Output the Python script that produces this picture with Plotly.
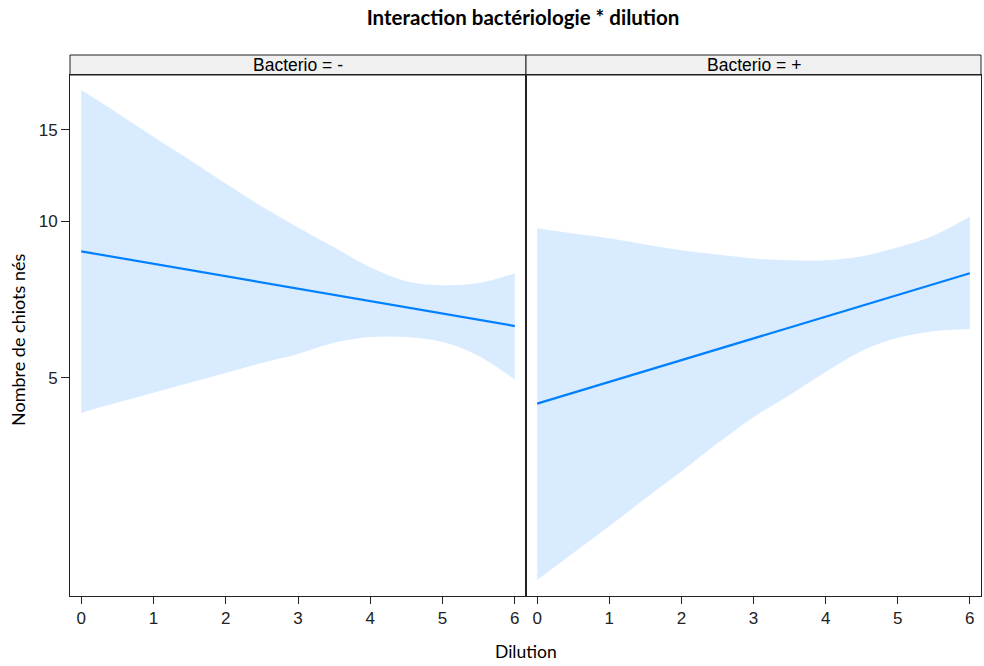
import plotly.graph_objects as go

# Effect estimates (number of pups born) by dilution, per bacteriology status
dilution = [0, 0.5, 1, 1.5, 2, 2.5, 3, 3.5, 4, 4.5, 5, 5.5, 6]
line_x = [0, 1, 2, 3, 4, 5, 6]

neg_fit = [8.76, 8.29, 7.85, 7.43, 7.03, 6.65, 6.29]
neg_upper = [17.9, 16.18, 14.55, 13.15, 11.83, 10.68, 9.74, 8.92, 8.16, 7.67, 7.54, 7.61, 7.95]
neg_lower = [4.28, 4.48, 4.68, 4.89, 5.11, 5.34, 5.56, 5.84, 5.99, 5.99, 5.86, 5.51, 4.96]

pos_fit = [4.46, 4.91, 5.41, 5.95, 6.55, 7.22, 7.95]
pos_upper = [9.70, 9.48, 9.28, 9.03, 8.80, 8.64, 8.49, 8.42, 8.42, 8.57, 8.92, 9.40, 10.22]
pos_lower = [2.04, 2.30, 2.59, 2.93, 3.30, 3.74, 4.20, 4.63, 5.13, 5.63, 5.97, 6.15, 6.21]

panels = ["Bacterio = -", "Bacterio = +"]
y_ticks = [5, 10, 15]
x_ticks = [0, 1, 2, 3, 4, 5, 6]

LINE = "rgb(0,128,255)"
BAND = "rgba(0,128,255,0.15)"
LABEL_FONT = "Lato, Open Sans, sans-serif"

fig = go.Figure()

series = [
    (neg_fit, neg_upper, neg_lower, "x", "y"),
    (pos_fit, pos_upper, pos_lower, "x2", "y2"),
]
for fit, up, lo, xa, ya in series:
    fig.add_trace(go.Scatter(x=dilution, y=lo, mode="lines", line=dict(width=0, shape="spline"),
                             xaxis=xa, yaxis=ya, hoverinfo="skip", showlegend=False))
    fig.add_trace(go.Scatter(x=dilution, y=up, mode="lines", line=dict(width=0, shape="spline"),
                             fill="tonexty", fillcolor=BAND,
                             xaxis=xa, yaxis=ya, hoverinfo="skip", showlegend=False))
    fig.add_trace(go.Scatter(x=line_x, y=fit, mode="lines", line=dict(color=LINE, width=2.2),
                             xaxis=xa, yaxis=ya, showlegend=False))

top = 0.963
split = 456 / 911
axis_font = dict(family="Liberation Sans, Arial, sans-serif", size=17, color="#222")

common_x = dict(range=[-0.155, 6.155], tickvals=x_ticks, ticks="outside", ticklen=7,
                tickcolor="#222", tickfont=axis_font, showline=True, linecolor="#222",
                linewidth=1, mirror=True, showgrid=False, zeroline=False)
common_y = dict(type="log", range=[0.2790, 1.2819], tickvals=y_ticks,
                ticklen=8, tickcolor="#222", tickfont=axis_font, showline=True,
                linecolor="#222", linewidth=1, mirror=True, showgrid=False,
                zeroline=False, domain=[0, top])

fig.update_layout(
    width=984, height=666,
    margin=dict(l=70, r=3, t=55, b=70),
    plot_bgcolor="white", paper_bgcolor="white",
    title=dict(text="<b>Interaction bactériologie * dilution</b>", x=(363 + 683) / 2 / 984,
               xanchor="center", y=1 - 18 / 666, yanchor="middle",
               font=dict(family=LABEL_FONT, size=20.5, color="black")),
    xaxis=dict(domain=[0, split], anchor="y", **common_x),
    xaxis2=dict(domain=[split, 1], anchor="y2", **common_x),
    yaxis=dict(anchor="x", ticks="outside", **common_y),
    yaxis2=dict(anchor="x2", matches="y", showticklabels=False, ticks="", **common_y),
)

# Strip headers above each panel
for i, label in enumerate(panels):
    x0, x1 = (0, split) if i == 0 else (split, 1)
    fig.add_shape(type="rect", xref="paper", yref="paper", x0=x0, x1=x1, y0=top, y1=1,
                  fillcolor="#f0f0f0", line=dict(color="#222", width=1), layer="below")
    fig.add_annotation(text=label, xref="paper", yref="paper", x=(x0 + x1) / 2,
                       y=(top + 1) / 2, showarrow=False, xanchor="center", yanchor="middle",
                       font=dict(family="Liberation Sans, Arial, sans-serif", size=17.5,
                                 color="black"))

fig.add_annotation(text="Nombre de chiots nés", xref="paper", yref="paper",
                   x=(18 - 70) / 911, y=(596 - 340) / 541, textangle=-90, showarrow=False,
                   xanchor="center", yanchor="middle",
                   font=dict(family=LABEL_FONT, size=18, color="black"))
fig.add_annotation(text="Dilution", xref="paper", yref="paper",
                   x=(526 - 70) / 911, y=(596 - 651) / 541, showarrow=False,
                   xanchor="center", yanchor="middle",
                   font=dict(family=LABEL_FONT, size=17.5, color="black"))

fig.write_html("out.html")
